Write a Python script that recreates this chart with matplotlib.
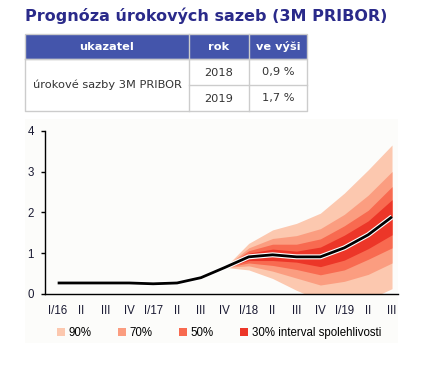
import matplotlib
matplotlib.use("Agg")
import matplotlib.pyplot as plt
import matplotlib.patheffects as pe
from matplotlib.patches import Rectangle, Patch
import numpy as np

# --- data ---
title = "Prognóza úrokových sazeb (3M PRIBOR)"
tab_header = ["ukazatel", "rok", "ve výši"]
tab_label = "úrokové sazby 3M PRIBOR"
tab_years = ["2018", "2019"]
tab_values = ["0,9 %", "1,7 %"]

quarters = ["I/16", "II", "III", "IV", "I/17", "II", "III", "IV",
            "I/18", "II", "III", "IV", "I/19", "II", "III"]
center = [0.27, 0.27, 0.27, 0.27, 0.25, 0.27, 0.40, 0.65,
          0.91, 0.96, 0.91, 0.91, 1.13, 1.45, 1.89]

# fan from IV/17 to III/19
fan_start = 7
up90 = [0.65, 1.24, 1.57, 1.73, 1.98, 2.47, 3.04, 3.65]
lo90 = [0.65, 0.59, 0.38, 0.09, -0.16, -0.21, -0.14, 0.13]
up70 = [0.65, 1.13, 1.36, 1.43, 1.60, 1.95, 2.42, 3.00]
lo70 = [0.65, 0.69, 0.56, 0.39, 0.22, 0.31, 0.48, 0.76]
up50 = [0.65, 1.06, 1.22, 1.22, 1.35, 1.67, 2.05, 2.63]
lo50 = [0.65, 0.76, 0.70, 0.60, 0.47, 0.59, 0.85, 1.13]
up30 = [0.65, 1.00, 1.10, 1.05, 1.15, 1.44, 1.79, 2.31]
lo30 = [0.65, 0.82, 0.82, 0.78, 0.67, 0.83, 1.11, 1.45]

band_labels = ["90%", "70%", "50%", "30% interval spolehlivosti"]
band_colors = ["#fcc8af", "#fb9d80", "#f86a50", "#ec3628"]

fig = plt.figure(figsize=(4.24, 3.68), dpi=100)
fig.patch.set_facecolor("white")

# overlay in pixel coords for title, table and panel
bg = fig.add_axes([0, 0, 1, 1], zorder=0)
bg.set_xlim(0, 424)
bg.set_ylim(368, 0)
bg.axis("off")

bg.text(25, 16, title, fontsize=11.5, fontweight="bold", color="#2a2a8a",
        family="DejaVu Sans", va="center", ha="left")

border = "#cccccc"
cols = [25, 189, 249, 307]
rows = [34, 59, 85, 111]
bg.add_patch(Rectangle((cols[0], rows[0]), cols[3] - cols[0], rows[1] - rows[0],
                       facecolor="#4455ab", edgecolor=border, lw=1))
for i, h in enumerate(tab_header):
    bg.text((cols[i] + cols[i + 1]) / 2, (rows[0] + rows[1]) / 2 + 0.5, h,
            color="white", fontsize=8.2, fontweight="bold", family="DejaVu Sans",
            ha="center", va="center")
# body borders
bg.plot([cols[0], cols[3], cols[3], cols[0], cols[0]],
        [rows[1], rows[1], rows[3], rows[3], rows[1]], color=border, lw=1)
for c in cols[1:3]:
    bg.plot([c, c], [rows[0], rows[3]], color=border, lw=1)
bg.plot([cols[1], cols[3]], [rows[2], rows[2]], color=border, lw=1)
bg.text((cols[0] + cols[1]) / 2, rows[2], tab_label, color="#333333",
        fontsize=8.2, family="DejaVu Sans", ha="center", va="center")
for r in range(2):
    yc = (rows[r + 1] + rows[r + 2]) / 2 + 0.5
    bg.text((cols[1] + cols[2]) / 2, yc, tab_years[r], color="#333333",
            fontsize=8.2, family="DejaVu Sans", ha="center", va="center")
    bg.text((cols[2] + cols[3]) / 2, yc, tab_values[r], color="#333333",
            fontsize=8.2, family="DejaVu Sans", ha="center", va="center")

# chart panel
bg.add_patch(Rectangle((25, 119), 373, 224, facecolor="#fcfcfa", edgecolor="none"))

# --- chart ---
ax = fig.add_axes([45 / 424, 1 - 294 / 368, 353 / 424, (294 - 130.7) / 368], zorder=1)
ax.patch.set_alpha(0)
x = np.arange(len(quarters))
xf = x[fan_start:]
for up, lo, col in zip([up90, up70, up50, up30], [lo90, lo70, lo50, lo30], band_colors):
    ax.fill_between(xf, lo, up, color=col, lw=0)
ax.plot(x, center, color="black", lw=2.0, solid_capstyle="butt",
        path_effects=[pe.Stroke(linewidth=3.6, foreground="white"), pe.Normal()])

ax.set_xlim(-0.53, 14.25)
ax.set_ylim(0, 4)
ax.set_yticks([0, 1, 2, 3, 4])
ax.set_xticks(x)
ax.set_xticklabels(quarters)
for s in ["top", "right"]:
    ax.spines[s].set_visible(False)
for s in ["left", "bottom"]:
    ax.spines[s].set_linewidth(1.0)
ax.tick_params(axis="y", length=3, width=1, pad=5, labelsize=8.3, labelcolor="#1a1a33")
ax.tick_params(axis="x", length=0, pad=8, labelsize=8.3, labelcolor="#1a1a33")
for lab in ax.get_xticklabels() + ax.get_yticklabels():
    lab.set_family("Liberation Sans")

handles = [Patch(facecolor=c, edgecolor="none") for c in band_colors]
fig.legend(handles, band_labels, loc="center left",
           bbox_to_anchor=(57 / 424, 1 - 333 / 368), ncol=4, frameon=False,
           prop={"family": "Liberation Sans", "size": 8.3},
           handlelength=0.7, handleheight=0.7, handletextpad=0.3,
           columnspacing=2.3, borderpad=0, borderaxespad=0)

fig.savefig("out.png", dpi=100, facecolor="white")
